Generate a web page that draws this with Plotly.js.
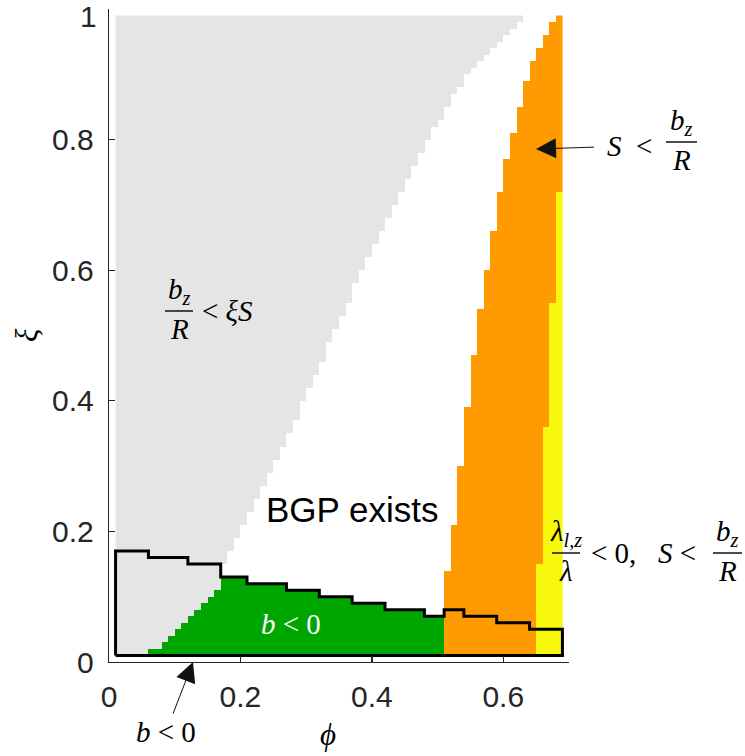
<!DOCTYPE html>
<html><head><meta charset="utf-8">
<script src="https://cdn.plot.ly/plotly-3.0.1.min.js"></script>
<style>html,body{margin:0;padding:0;background:#fff}#chart{width:745px;height:756px}</style>
</head><body><div id="chart"></div>
<script>
// ---- grid of the computed map (cells 0.01 x 0.01, from 0.01) ----
const cellSize = 0.01;
const nPhiCells = 68;   // phi 0.01 .. 0.69
const nXiCells = 98;    // xi  0.01 .. 0.99

// gray region (b_z/R < xi S): lower xi edge for each phi column from 0.01 (extends to 0.99)
const grayBottom = [0.01,0.01,0.01,0.01,0.01,0.02,0.02,0.03,0.04,0.05,0.06,0.07,0.08,0.09,0.10,0.11,
  0.15,0.17,0.19,0.21,0.23,0.25,0.27,0.29,0.31,0.33,0.35,0.37,0.40,0.42,0.44,0.46,0.49,0.51,0.53,
  0.55,0.58,0.60,0.62,0.64,0.66,0.68,0.70,0.72,0.74,0.76,0.78,0.80,0.82,0.83,0.85,0.87,0.88,0.90,
  0.91,0.92,0.93,0.94,0.95,0.96,0.97,0.98];

// orange region (S < b_z/R): upper xi edge for phi columns from 0.51
const orangeFirstPhi = 0.51;
const orangeTop = [0.14,0.21,0.30,0.39,0.47,0.54,0.60,0.66,0.72,0.77,0.81,0.85,0.89,0.92,0.94,0.96,0.98,0.99];

// yellow region (lambda_{l,z}/lambda < 0, S < b_z/R): upper xi edge for phi columns from 0.65
const yellowFirstPhi = 0.65;
const yellowTop = [0.15,0.36,0.55,0.72];

// b < 0 region: phi breakpoints and upper xi edge on each segment
const bNegPhi = [0.01,0.06,0.12,0.17,0.21,0.27,0.32,0.37,0.42,0.48,0.51,0.54,0.59,0.64,0.69];
const bNegTop = [0.17,0.16,0.15,0.13,0.12,0.11,0.10,0.09,0.08,0.07,0.08,0.07,0.06,0.05];
const bNegBottom = 0.01;

const xTickVals = [0,0.2,0.4,0.6];
const xTickText = ['0','0.2','0.4','0.6'];
const yTickVals = [0,0.2,0.4,0.6,0.8,1];
const yTickText = ['0','0.2','0.4','0.6','0.8',''];
const yTopLabel = '1';   // drawn just inside the page so it is not cut

// ---- build the categorical map ----
const GRAY=1, GREEN=2, ORANGE=3, YELLOW=4;
const i100 = v => Math.round(v*100);
const oFirst = i100(orangeFirstPhi), yFirst = i100(yellowFirstPhi);
const z = [];
for (let r = 0; r < nXiCells; r++) {
  const lo = r + 1, hi = r + 2;           // xi edges *100
  const row = [];
  for (let c = 0; c < nPhiCells; c++) {
    const p = c + 1;                       // phi lower edge *100
    let v = null;
    for (let s = 0; s < bNegTop.length; s++) {
      if (p >= i100(bNegPhi[s]) && p < i100(bNegPhi[s+1]) && hi <= i100(bNegTop[s]) && lo >= i100(bNegBottom)) v = GREEN;
    }
    if (c < grayBottom.length && lo >= i100(grayBottom[c])) v = GRAY;
    const oi = p - oFirst;
    if (oi >= 0 && oi < orangeTop.length && hi <= i100(orangeTop[oi])) v = ORANGE;
    const yi = p - yFirst;
    if (yi >= 0 && yi < yellowTop.length && hi <= i100(yellowTop[yi])) v = YELLOW;
    row.push(v);
  }
  z.push(row);
}

const mapTrace = {
  type: 'heatmap', z: z,
  x0: 0.01 + cellSize/2, dx: cellSize, y0: 0.01 + cellSize/2, dy: cellSize,
  zmin: 1, zmax: 4, zsmooth: false, showscale: false, hoverinfo: 'skip',
  colorscale: [[0,'#e5e5e5'],[0.25,'#e5e5e5'],[0.25,'#00a600'],[0.5,'#00a600'],
               [0.5,'#ff9a00'],[0.75,'#ff9a00'],[0.75,'#f7f70c'],[1,'#f7f70c']]
};

// outline of the b<0 region
const ox = [bNegPhi[0]], oy = [bNegBottom];
for (let s = 0; s < bNegTop.length; s++) { ox.push(bNegPhi[s]); oy.push(bNegTop[s]); }
ox.push(bNegPhi[bNegPhi.length-1]); oy.push(bNegBottom);
ox.push(bNegPhi[0]); oy.push(bNegBottom);
const outlineTrace = {
  type: 'scatter', mode: 'lines', x: ox, y: oy, line: {color: '#000', width: 3, shape: 'hv'},
  hoverinfo: 'skip', showlegend: false, cliponaxis: false
};

// ---- page geometry for text placed around the axes ----
const L = 109, W = 460, T = 9, H = 653;
const px = v => (v - L) / W;
const py = v => (T + H - v) / H;

const serif = 'Liberation Serif, Times New Roman, DejaVu Serif, serif';
const sans = 'Liberation Sans, Arial, Helvetica, sans-serif';
const mathFont = {family: serif, size: 29, color: '#000'};
const sp = '&nbsp;';

function txt(text, x, y, opts) {
  return Object.assign({xref:'paper', yref:'paper', x: px(x), y: py(y), text: text, showarrow: false,
    xanchor: 'center', yanchor: 'middle', font: mathFont, borderpad: 0}, opts || {});
}
// fraction: numerator sits on the bar, denominator hangs below it
function frac(num, den, cx, barY, x0, x1) {
  return {
    ann: [txt(num, cx, barY - 1, {yanchor: 'bottom'}), txt(den, cx, barY + 1, {yanchor: 'top'})],
    shape: {type:'line', xref:'paper', yref:'paper', x0: px(x0), x1: px(x1), y0: py(barY), y1: py(barY),
      line: {color:'#000', width: 1.4}}
  };
}
// text with an arrow: tip at (tx,ty), text centred at (cx,cy)
function arrowTxt(text, tx, ty, cx, cy, gap) {
  return {xref:'paper', yref:'paper', x: px(tx), y: py(ty), ax: cx - tx, ay: cy - ty, text: text,
    showarrow: true, arrowhead: 2, arrowsize: 4, arrowwidth: 1, arrowcolor: '#111', standoff: 0,
    startstandoff: gap, xanchor: 'center', yanchor: 'middle', font: mathFont, borderpad: 0};
}

const fracs = [
  frac('<i>b<sub>z</sub></i>', '<i>R</i>', 179, 311, 165, 193),
  frac('<i>b<sub>z</sub></i>', '<i>R</i>', 681, 142, 666, 697),
  frac('<i>λ<sub>l,z</sub></i>', '<i>λ</i>', 566, 553, 552, 580),
  frac('<i>b<sub>z</sub></i>', '<i>R</i>', 727, 553, 713, 742)
];

const annotations = [
  txt('BGP exists', 352, 510, {font: {family: sans, size: 35, color: '#000'}}),
  txt('<i>b</i>' + sp + '&lt;' + sp + '0', 291, 624, {font: {family: serif, size: 29, color: '#fff'}}),
  txt('&lt;' + sp + '<i>ξS</i>', 201, 311, {xanchor: 'left'}),
  arrowTxt('<i>S</i>' + sp + sp + '&lt;', 536, 149, 629, 146, 12),
  txt('&lt;' + sp + '0,' + sp + sp + sp + '<i>S</i>' + sp + '&lt;', 590, 553, {xanchor: 'left'}),
  arrowTxt('<i>b</i>' + sp + '&lt;' + sp + '0', 193, 662, 166, 732, 2),
  txt('<i>ξ</i>', 26, 335, {textangle: -90, font: {family: serif, size: 31, color: '#000'}}),
  txt('<i>ϕ</i>', 328, 734, {font: {family: serif, size: 31, color: '#000'}}),
  txt(yTopLabel, 98, 17, {xanchor: 'right', font: {family: sans, size: 30, color: '#262626'}})
];
fracs.forEach(f => annotations.push(f.ann[0], f.ann[1]));
const shapes = fracs.map(f => f.shape);

const axisCommon = {
  showgrid: false, zeroline: false, showline: true, linecolor: '#262626', linewidth: 1.3,
  ticks: 'inside', ticklen: 6, tickwidth: 1.3, tickcolor: '#262626', mirror: false,
  tickfont: {family: sans, size: 30, color: '#262626'}, fixedrange: true
};

const layout = {
  width: 745, height: 756,
  margin: {l: L, r: 745 - L - W, t: T, b: 756 - T - H, pad: 0},
  paper_bgcolor: '#fff', plot_bgcolor: '#fff', showlegend: false,
  xaxis: Object.assign({}, axisCommon, {range: [0, 0.7], tickvals: xTickVals, ticktext: xTickText, ticklabelstandoff: 8}),
  yaxis: Object.assign({}, axisCommon, {range: [0, 1], tickvals: yTickVals, ticktext: yTickText, ticklabelstandoff: 8}),
  annotations: annotations, shapes: shapes
};

Plotly.newPlot('chart', [mapTrace, outlineTrace], layout, {displayModeBar: false, staticPlot: true});
</script>
</body></html>
